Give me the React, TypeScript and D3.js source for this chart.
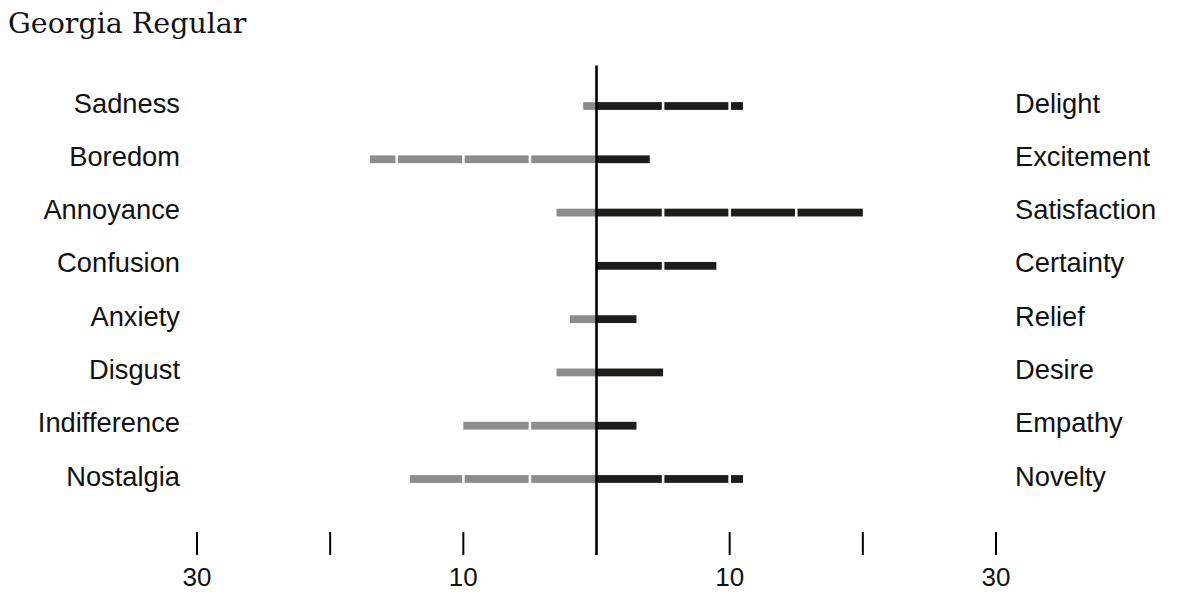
import React from "react";
import * as d3 from "d3";

const leftLabels = ["Sadness", "Boredom", "Annoyance", "Confusion", "Anxiety", "Disgust", "Indifference", "Nostalgia"];
const rightLabels = ["Delight", "Excitement", "Satisfaction", "Certainty", "Relief", "Desire", "Empathy", "Novelty"];
const leftValues = [1, 17, 3, 0, 2, 3, 10, 14];
const rightValues = [11, 4, 20, 9, 3, 5, 3, 11];
const tickValues = [-30, -20, -10, 10, 20, 30];
const labeledTicks = [-30, -10, 10, 30];
const title = "Georgia Regular";

const W = 1200;
const H = 601;
const SEG = 5;
const GAP = 2.6;
const BAR_H = 7.8;
const GRAY = "#8c8c8a";
const DARK = "#1d1e19";
const SANS = "'Liberation Sans', Arial, Helvetica, sans-serif";

function segments(value: number, sign: number, x: d3.ScaleLinear<number, number>) {
  const segs: { x0: number; x1: number }[] = [];
  for (let i = 0; i * SEG < value; i++) {
    const s = i * SEG;
    const e = Math.min(s + SEG, value);
    let a = x(sign * s);
    let b = x(sign * e);
    const startInset = i > 0 ? GAP / 2 : 0;
    const endInset = e < value ? GAP / 2 : 0;
    if (sign > 0) {
      a += startInset;
      b -= endInset;
    } else {
      a -= startInset;
      b += endInset;
    }
    segs.push({ x0: Math.min(a, b), x1: Math.max(a, b) });
  }
  return segs;
}

export default function App() {
  const x = d3.scaleLinear().domain([-30, 30]).range([197, 996]);
  const y = d3.scalePoint<string>().domain(leftLabels).range([106, 479]);

  return (
    <svg
      width={W}
      height={H}
      style={{ position: "absolute", left: 0, top: 0, background: "#fff" }}
    >
      <text x={8} y={32.5} fontFamily="'DejaVu Serif', Georgia, serif" fontSize={28.5} fill="#111">
        {title}
      </text>

      {leftLabels.map((lab, i) => {
        const yc = y(lab) as number;
        return (
          <g key={lab}>
            <text x={180} y={yc + 6.5} textAnchor="end" fontFamily={SANS} fontSize={27.3} fill="#111">
              {lab}
            </text>
            <text x={1015} y={yc + 6.5} textAnchor="start" fontFamily={SANS} fontSize={27.3} fill="#111">
              {rightLabels[i]}
            </text>
            {segments(leftValues[i], -1, x).map((s, j) => (
              <rect key={"l" + j} x={s.x0} y={yc - BAR_H / 2} width={s.x1 - s.x0} height={BAR_H} fill={GRAY} />
            ))}
            {segments(rightValues[i], 1, x).map((s, j) => (
              <rect key={"r" + j} x={s.x0} y={yc - BAR_H / 2} width={s.x1 - s.x0} height={BAR_H} fill={DARK} />
            ))}
          </g>
        );
      })}

      <line x1={x(0)} x2={x(0)} y1={65.5} y2={555} stroke="#000" strokeWidth={2.6} />

      {tickValues.map((t) => (
        <line key={"t" + t} x1={x(t)} x2={x(t)} y1={532} y2={555} stroke="#000" strokeWidth={2} />
      ))}
      {labeledTicks.map((t) => (
        <text key={"tl" + t} x={x(t)} y={585.5} textAnchor="middle" fontFamily={SANS} fontSize={26} fill="#111">
          {Math.abs(t)}
        </text>
      ))}
    </svg>
  );
}
